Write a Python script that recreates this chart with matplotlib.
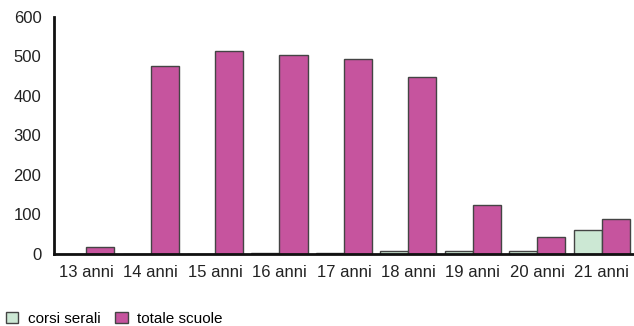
import matplotlib.pyplot as plt
import numpy as np

plt.rcParams['font.family'] = ['Liberation Sans', 'DejaVu Sans']

categorie = ['13 anni', '14 anni', '15 anni', '16 anni', '17 anni', '18 anni', '19 anni', '20 anni', '21 anni']
corsi_serali = [0, 0, 0, 3, 3, 8, 8, 8, 60]
totale_scuole = [18, 475, 513, 503, 494, 448, 125, 42, 88]

fig = plt.figure(figsize=(6.34, 3.26), dpi=100)
ax = fig.add_axes([0.085, 0.221, 0.915, 0.727])

x = np.arange(len(categorie))
w = 0.435
ax.bar(x - w / 2, corsi_serali, w, color='#cce8d4', edgecolor='#444444', linewidth=1, label='corsi serali')
ax.bar(x + w / 2, totale_scuole, w, color='#c6549e', edgecolor='#444444', linewidth=1, label='totale scuole')

ax.set_xlim(-0.5, 8.5)
ax.set_ylim(0, 600)
ax.set_yticks(range(0, 601, 100))
ax.set_xticks(x)
ax.set_xticklabels(categorie)
ax.tick_params(length=0, labelsize=12, colors='#222222', pad=8)
ax.tick_params(axis='y', pad=9)
for s in ['top', 'right']:
    ax.spines[s].set_visible(False)
for s in ['left', 'bottom']:
    ax.spines[s].set_linewidth(2)
    ax.spines[s].set_color('#111111')

fig.legend(loc='lower left', bbox_to_anchor=(-0.012, -0.042), ncol=2, frameon=False,
           fontsize=11, handlelength=0.8, handleheight=0.8, handletextpad=0.6, columnspacing=1.0)

fig.savefig('out.png', dpi=100)
